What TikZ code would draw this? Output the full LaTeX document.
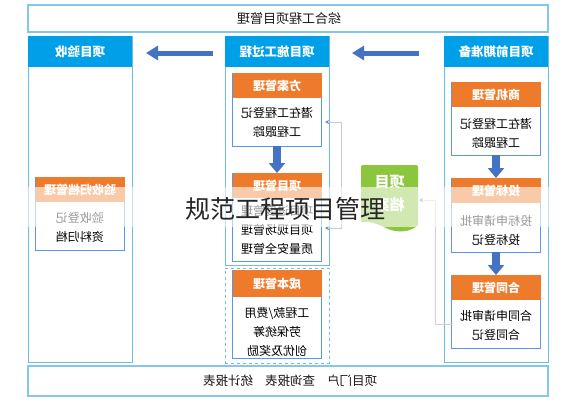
\documentclass[tikz,border=0pt]{standalone}
\usepackage{graphicx}
\usepackage{fontspec}
\setmainfont{Noto Sans CJK SC}
\usetikzlibrary{arrows.meta}
\newcommand{\mir}[1]{\scalebox{-1}[1]{#1}}
\definecolor{hblue}{HTML}{00A0E9}
\definecolor{bline}{HTML}{6DBDE6}
\definecolor{oran}{HTML}{EE7B2C}
\definecolor{ablue}{HTML}{4472C4}
\definecolor{dgreen}{HTML}{8CC63F}
\definecolor{conng}{HTML}{C3CADF}
\definecolor{connp}{HTML}{E6C6D6}
\definecolor{tipc}{HTML}{7088C4}
\tikzset{mytip/.tip={Stealth[length=4pt,width=4pt,color=tipc]}}
\begin{document}
\begin{tikzpicture}[x=1pt,y=-1pt,
  frame/.style={draw=bline!85, line width=1.2pt, fill=white, inner sep=0pt, outer sep=0pt},
  colframe/.style={draw=bline, line width=1pt, fill=white, inner sep=0pt, outer sep=0pt, minimum width=104pt},
  colhead/.style={fill=hblue, text=white, font=\fontsize{12.5}{14}\selectfont\bfseries, inner sep=0pt, outer sep=0pt, minimum width=104pt, minimum height=31pt},
  ibox/.style={draw=bline!80!blue, line width=0.9pt, fill=white, inner sep=0pt, outer sep=0pt, minimum width=89pt},
  ihead/.style={fill=oran, text=white, font=\fontsize{12}{14}\selectfont\bfseries, inner sep=0pt, outer sep=0pt, minimum width=89pt, minimum height=25pt},
  ibody/.style={align=center, font=\fontsize{12}{19}\selectfont, text=black, inner sep=0pt},
  bigarrow/.style={draw=ablue, line width=5pt, -{Triangle[length=12pt,width=14pt]}},
  downarrow/.style={draw=ablue, line width=7.5pt, -{Triangle[length=10pt,width=16pt]}},
  linkg/.style={draw=conng, line width=0.8pt},
  linkp/.style={draw=connp, line width=0.8pt}
]
\useasboundingbox (0,0) rectangle (570,400);
\fill[white] (0,0) rectangle (570,400);

% top and bottom frames
\node[frame, minimum width=520pt, minimum height=27pt] (top) at (288,18.5) {};
\node[font=\fontsize{13}{15}\selectfont, text=black!90] (topT) at (289,18.5) {\mir{综合工程项目管理}};
\node[frame, minimum width=520pt, minimum height=30pt] (bot) at (288,381) {};
\node[font=\fontsize{12.5}{15}\selectfont, text=black!90] (botT) at (290,381) {\mir{项目门户\hspace{12pt}查询报表\hspace{12pt}统计报表}};

% columns
\node[colframe, minimum height=326pt] (colL) at (80,199) {};
\node[colhead] (hL) at (80,51.5) {\mir{项目验收}};
\node[colframe, minimum height=229pt] (colM) at (277,150.5) {};
\node[colframe, dashed, minimum height=95pt] (colMd) at (277,315.5) {};
\node[colhead] (hM) at (277,51.5) {\mir{项目施工过程}};
\node[colframe, minimum height=326pt] (colR) at (496,199) {};
\node[colhead] (hR) at (496,51.5) {\mir{项目前期准备}};

% left inner box
\node[ibox, minimum height=73pt] (ys) at (80,213.5) {};
\node[ihead] (ysH) at (80,189.5) {\mir{验收归档管理}};
\node[ibody] (ysB) at (80,227) {\mir{验收登记}\\\mir{资料归档}};

% middle inner boxes
\node[ibox, minimum height=73pt] (fa) at (277,109.5) {};
\node[ihead] (faH) at (277,85.5) {\mir{方案管理}};
\node[ibody] (faB) at (277,122.5) {\mir{潜在工程登记}\\\mir{工程跟踪}};

\node[ibox, minimum height=88pt] (xm) at (277,217) {};
\node[ihead] (xmH) at (277,185.5) {\mir{项目管理}};
\node[ibody] (xmB) at (277,230) {\mir{项目进度管理}\\\mir{项目现场管理}\\\mir{质量安全管理}};

\node[ibox, minimum height=88pt] (cb) at (277,314) {};
\node[ihead, minimum height=27pt] (cbH) at (277,283.5) {\mir{成本管理}};
\node[ibody] (cbB) at (277,332) {\mir{工程款/费用}\\\mir{劳保统筹}\\\mir{创优及奖励}};

% right inner boxes
\node[ibox, minimum height=73pt] (sj) at (496,118.5) {};
\node[ihead] (sjH) at (496,94.5) {\mir{商机管理}};
\node[ibody] (sjB) at (496,133.5) {\mir{潜在工程登记}\\\mir{工程跟踪}};

\node[ibox, minimum height=74pt] (tb) at (496,215) {};
\node[ihead] (tbH) at (496,190.5) {\mir{投标管理}};
\node[ibody] (tbB) at (496,230) {\mir{投标申请审批}\\\mir{投标登记}};

\node[ibox, minimum height=73pt] (ht) at (496,311.5) {};
\node[ihead] (htH) at (496,287.5) {\mir{合同管理}};
\node[ibody] (htB) at (496,325) {\mir{合同申请审批}\\\mir{合同登记}};

% down arrows
\draw[downarrow] (fa.south) -- (xm.north);
\draw[downarrow] (sj.south) -- (tb.north);
\draw[downarrow] (tb.south) -- (ht.north);

% big arrows
\coordinate (a1s) at (419,53);
\coordinate (a1e) at (352,53);
\coordinate (a2s) at (213,53);
\coordinate (a2e) at (146,53);
\draw[bigarrow] (a1s) -- (a1e);
\draw[bigarrow] (a2s) -- (a2e);

% document shape
\fill[dgreen] (361,168) [rounded corners=2pt] -- (361,165) -- (418,165) [sharp corners] -- (418,225)
  .. controls (410,233) and (396,233) .. (386,228)
  .. controls (376,223) and (368,221) .. (361,222) -- cycle;
\node[align=center, text=white, font=\fontsize{15}{23}\selectfont\bfseries, inner sep=0pt] (doc) at (389.5,193.5) {\mir{项目}\\\mir{档案}};

% connectors
\coordinate (bT) at (341,122);
\coordinate (bB) at (341,228);
\coordinate (faE) at (325,122);
\coordinate (xmE) at (325,228);
\draw[linkg, {mytip}-{mytip}] (faE) -- (bT) -- (bB) -- (xmE);
\coordinate (htW) at (452,324);
\coordinate (rc1) at (435,324);
\coordinate (rc2) at (435,200);
\coordinate (docE) at (419,200);
\draw[linkp, -{mytip}] (htW) -- (rc1) -- (rc2) -- (docE);

% watermark band
\fill[white, opacity=0.6] (0,187) rectangle (570,227);
\node[font=\fontsize{25}{25}\selectfont, text=black!85, inner sep=0pt] (wm) at (285,209) {规范工程项目管理};
\end{tikzpicture}
\end{document}
